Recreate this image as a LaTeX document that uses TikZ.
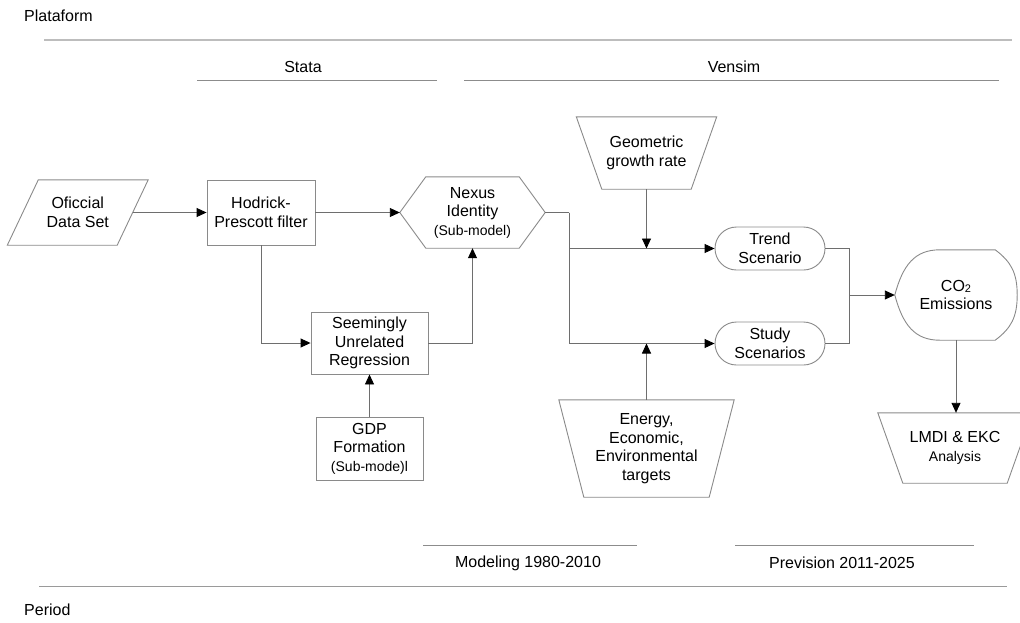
\documentclass[tikz,border=0pt]{standalone}
\usepackage{fontspec}
\setmainfont{Liberation Sans}
\usetikzlibrary{shapes.misc,arrows.meta,calc}
\definecolor{shpc}{HTML}{8A8A8A}
\definecolor{conc}{HTML}{6E6E6E}
\definecolor{rulec}{HTML}{BDBDBD}
\definecolor{rulebc}{HTML}{9A9A9A}
\definecolor{subrc}{HTML}{8C8C8C}
\begin{document}
\begin{tikzpicture}[x=1pt,y=-1pt,
  txt/.style={font=\fontsize{16}{18.5}\selectfont, align=center, inner sep=0pt},
  shp/.style={draw=shpc, line width=0.9pt},
  conn/.style={draw=conc, line width=0.9pt},
  arr/.style={conn, -{Triangle[length=10pt,width=9pt,color=black,fill=black]}},
  toprule/.style={draw=rulec, line width=1.4pt},
  botrule/.style={draw=rulebc, line width=1pt},
  subrule/.style={draw=subrc, line width=1pt},
  small/.style={font=\fontsize{14}{16}\selectfont}]
\useasboundingbox (0,0) rectangle (1020,622);

% header / footer
\node[txt, anchor=west] (plat) at (24,16) {Plataform};
\draw[toprule] (44,40) -- (1012,40);
\node[txt] (stata) at (303,67) {Stata};
\draw[subrule] (197,80) -- (437,80);
\node[txt] (vensim) at (734,67) {Vensim};
\draw[subrule] (464,80) -- (999,80);
\draw[subrule] (423,545) -- (637,545);
\node[txt] (mod) at (528,563) {Modeling 1980-2010};
\draw[subrule] (735,545) -- (974,545);
\node[txt] (prev) at (842,563) {Prevision 2011-2025};
\draw[botrule] (39,586) -- (1007,586);
\node[txt, anchor=west] (per) at (24,610) {Period};

% nodes
\node[txt, minimum width=109.5pt, minimum height=65pt] (data) at (77.75,212.5) {Oficcial\\Data Set};
\draw[shp] ([xshift=15.5pt]data.north west) -- ([xshift=15.5pt]data.north east) -- ([xshift=-15.5pt]data.south east) -- ([xshift=-15.5pt]data.south west) -- cycle;

\node[txt, shp, minimum width=108pt, minimum height=65pt] (hp) at (261,212.5) {Hodrick-\\Prescott filter};

\node[txt, minimum width=145pt, minimum height=71pt] (nexus) at (472.5,212.5) {Nexus\\Identity\\{\fontsize{14}{16}\selectfont (Sub-model)}};
\draw[shp] (nexus.west) -- ([xshift=26pt]nexus.north west) -- ([xshift=-26pt]nexus.north east) -- (nexus.east) -- ([xshift=-26pt]nexus.south east) -- ([xshift=26pt]nexus.south west) -- cycle;

\node[txt, minimum width=140pt, minimum height=72pt] (geo) at (646.5,153) {Geometric\\growth rate};
\draw[shp] (geo.north west) -- (geo.north east) -- ([xshift=-25.5pt]geo.south east) -- ([xshift=25.5pt]geo.south west) -- cycle;

\node[txt, shp, rounded rectangle, minimum width=110pt, minimum height=43pt] (trend) at (770,248.5) {Trend\\Scenario};
\node[txt, shp, rounded rectangle, minimum width=110pt, minimum height=43pt] (study) at (770,343.5) {Study\\Scenarios};

\node[txt, minimum width=122pt, minimum height=90pt] (co2) at (956,295) {CO{\fontsize{11}{11}\selectfont\raisebox{-1pt}{2}}\\Emissions};
\draw[shp] (co2.west) .. controls ++(8,-30) and ++(-25,0) .. ([xshift=45pt]co2.north west)
  -- ([xshift=-22pt]co2.north east) .. controls ++(16,12) and ++(0,-22) .. (co2.east)
  .. controls ++(0,22) and ++(16,-12) .. ([xshift=-22pt]co2.south east)
  -- ([xshift=45pt]co2.south west) .. controls ++(-25,0) and ++(8,30) .. (co2.west);

\node[txt, minimum width=154pt, minimum height=70pt] (lmdi) at (955,448) {LMDI \& EKC\\{\fontsize{14}{16}\selectfont Analysis}};
\draw[shp] (lmdi.north west) -- (lmdi.north east) -- ([xshift=-25pt]lmdi.south east) -- ([xshift=25pt]lmdi.south west) -- cycle;

\node[txt, shp, minimum width=117pt, minimum height=62pt] (sur) at (369.5,343) {Seemingly\\Unrelated\\Regression};
\node[txt, shp, minimum width=107pt, minimum height=63pt] (gdp) at (369.5,448.5) {GDP\\Formation\\{\fontsize{14}{16}\selectfont (Sub-mode)l}};

\node[txt, minimum width=175pt, minimum height=97pt] (energy) at (646.5,448.5) {Energy,\\Economic,\\Environmental\\targets};
\draw[shp] (energy.north west) -- (energy.north east) -- ([xshift=-25pt]energy.south east) -- ([xshift=25pt]energy.south west) -- cycle;

% connectors
\draw[arr] (data.east) -- (hp.west);
\draw[arr] (hp.east) -- (nexus.west);
\draw[arr] (hp.south) |- (sur.west);
\draw[arr] (sur.east) -| (nexus.south);
\draw[arr] (gdp.north) -- (sur.south);
\coordinate (split) at (569,212.5);
\draw[conn] (nexus.east) -- (split);
\draw[arr] (split) |- (trend.west);
\draw[arr] (split) |- (study.west);
\draw[arr] (geo.south) -- (geo.south |- trend.west);
\draw[arr] (energy.north) -- (energy.north |- study.west);
\coordinate (merge) at (849,295);
\draw[conn] (trend.east) -| (merge) |- (study.east);
\draw[arr] (merge) -- (co2.west);
\draw[arr] (co2.south) -- (co2.south |- lmdi.north);
\end{tikzpicture}
\end{document}
